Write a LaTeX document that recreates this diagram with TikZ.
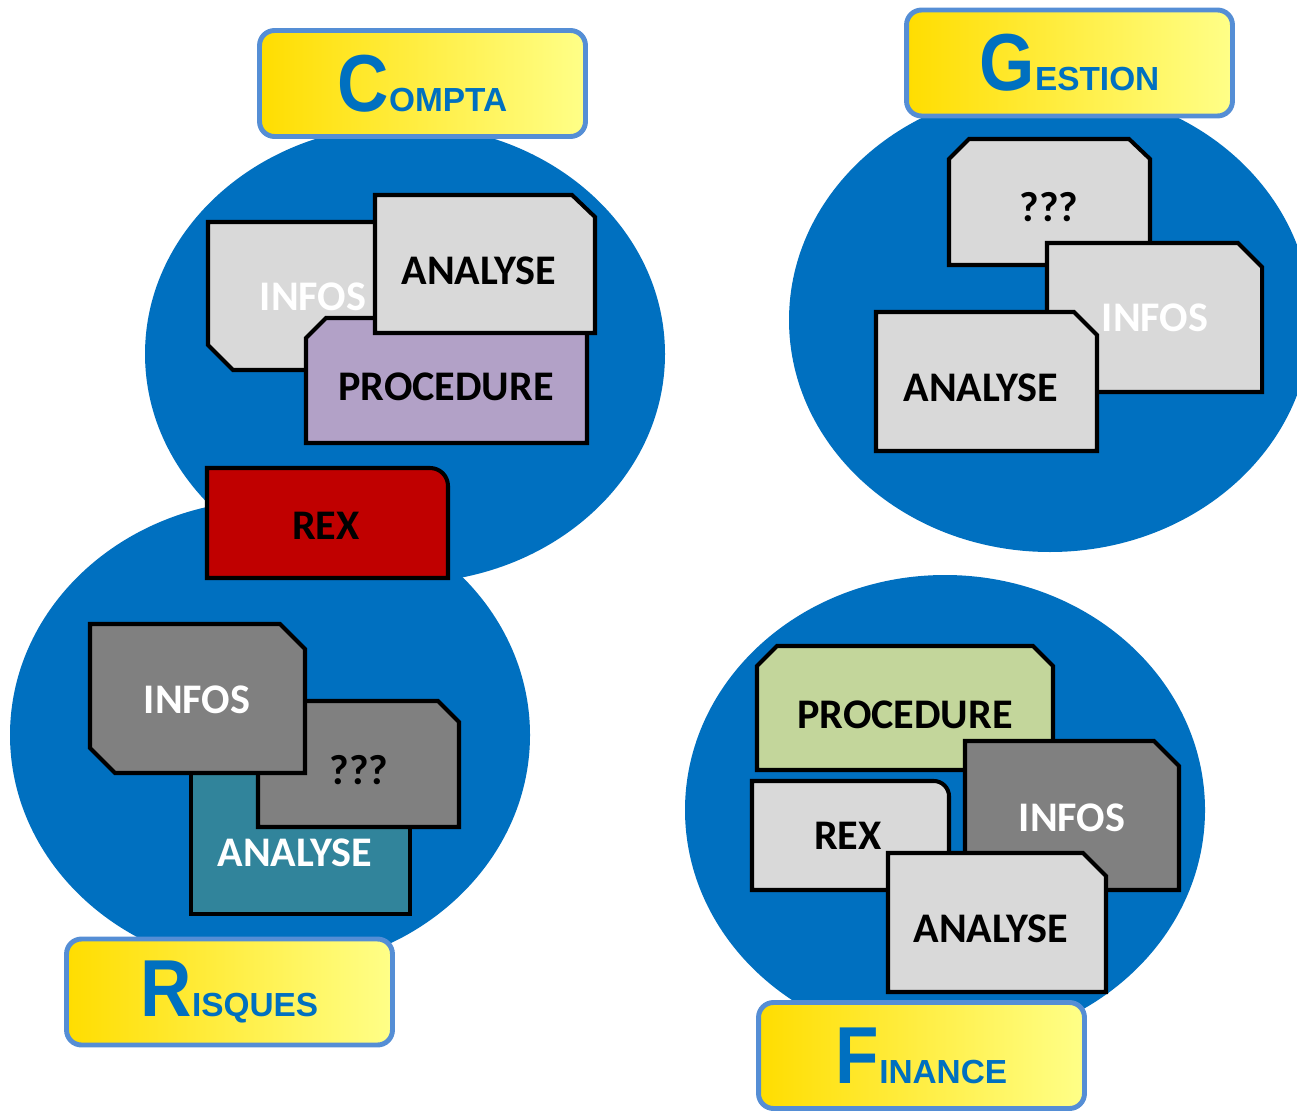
\documentclass[tikz,border=0pt]{standalone}
\usepackage{fontspec}
\newfontfamily\cardfont{Carlito}
\newfontfamily\labfont{Liberation Sans}
\definecolor{ellblue}{HTML}{0070C0}
\definecolor{lgray}{HTML}{D9D9D9}
\definecolor{dgray}{HTML}{808080}
\definecolor{purp}{HTML}{B2A1C7}
\definecolor{rexred}{HTML}{C00000}
\definecolor{teal}{HTML}{31849B}
\definecolor{lgreen}{HTML}{C3D69B}
\definecolor{labborder}{HTML}{558ED5}
\definecolor{gold}{HTML}{FFDD00}
\definecolor{lyellow}{HTML}{FFFF88}
\newcommand\bigini[1]{\scalebox{0.88}[1]{\fontsize{46}{46}\selectfont #1}}
\newcommand\smallrest[1]{{\fontsize{19}{19}\selectfont #1}}
\begin{document}
\begin{tikzpicture}[x=0.02cm,y=-0.02cm,
  blob/.style={fill=ellblue},
  card/.style={draw=black, line width=2.3pt, line join=miter},
  ctext/.style={font=\cardfont\bfseries\fontsize{24}{24}\selectfont, inner sep=0pt, text=black},
  wtext/.style={ctext, text=white},
  title/.style={draw=labborder, line width=2.8pt, rounded corners=8.5pt,
    left color=gold, middle color=yellow, right color=lyellow,
    minimum width=6.52cm, minimum height=2.12cm, inner sep=0pt,
    text=ellblue, font=\labfont\bfseries}]
\clip (0,0) rectangle (1297,1111);
\fill[white] (0,0) rectangle (1297,1111);
% ellipses
\fill[blob] (405,354) ellipse [x radius=260, y radius=229];
\fill[blob] (270,735) ellipse [x radius=260, y radius=235];
\fill[blob] (1050,320) ellipse [x radius=261, y radius=232];
\fill[blob] (945,810) ellipse [x radius=260, y radius=235];
% Compta cards
\draw[card, fill=lgray] (208,222) -- (420,222) -- (420,370) -- (233,370) -- (208,345) -- cycle;
\node[wtext] (cinfos) at (313,297) {INFOS};
\draw[card, fill=purp] (306,338) -- (326,318) -- (587,318) -- (587,443) -- (306,443) -- cycle;
\node[ctext] (cproc) at (446,387) {PROCEDURE};
\draw[card, fill=lgray] (375,195) -- (572,195) -- (595,217) -- (595,333) -- (375,333) -- cycle;
\node[ctext] (canal) at (479,271) {ANALYSE};
% REX shared
\draw[card, fill=rexred] (207,578) -- (207,468) -- (430,468) .. controls (440,468) and (448,476) .. (448,486) -- (448,578) -- cycle;
\node[ctext] (rrex) at (326,526) {REX};
% Risques cards
\draw[card, fill=teal] (191,760) -- (410,760) -- (410,914) -- (191,914) -- cycle;
\node[wtext] (ranal) at (295,853) {ANALYSE};
\draw[card, fill=dgray] (258,701) -- (438,701) -- (459,722) -- (459,827) -- (258,827) -- cycle;
\node[ctext] (rq) at (359,770) {???};
\draw[card, fill=dgray] (90,624) -- (280,624) -- (305,649) -- (305,773) -- (115,773) -- (90,748) -- cycle;
\node[wtext] (rinfos) at (197,700) {INFOS};
% Gestion cards
\draw[card, fill=lgray] (949,159) -- (969,139) -- (1129,139) -- (1150,159) -- (1150,265) -- (949,265) -- cycle;
\node[ctext] (gq) at (1049,207) {???};
\draw[card, fill=lgray] (1047,243) -- (1238,243) -- (1262,267) -- (1262,392) -- (1047,392) -- cycle;
\node[wtext] (ginfos) at (1155,318) {INFOS};
\draw[card, fill=lgray] (876,312) -- (1074,312) -- (1097,335) -- (1097,451) -- (876,451) -- cycle;
\node[ctext] (ganal) at (981,388) {ANALYSE};
% Finance cards
\draw[card, fill=lgreen] (757,666) -- (777,646) -- (1033,646) -- (1053,666) -- (1053,770) -- (757,770) -- cycle;
\node[ctext] (fproc) at (905,715) {PROCEDURE};
\draw[card, fill=dgray] (965,741) -- (1154,741) -- (1179,766) -- (1179,890) -- (965,890) -- cycle;
\node[wtext] (finfos) at (1072,818) {INFOS};
\draw[card, fill=lgray] (752,781) -- (934,781) .. controls (942,781) and (949,788) .. (949,796) -- (949,890) -- (752,890) -- cycle;
\node[ctext] (frex) at (848,836) {REX};
\draw[card, fill=lgray] (888,853) -- (1083,853) -- (1106,876) -- (1106,992) -- (888,992) -- cycle;
\node[ctext] (fanal) at (991,929) {ANALYSE};
% titles
\node[title] (compta) at (422.5,83.5) {\raisebox{-2.5pt}{\bigini{C}\smallrest{OMPTA}}};
\node[title] (gestion) at (1069.5,63) {\raisebox{-2.5pt}{\bigini{G}\smallrest{ESTION}}};
\node[title] (risques) at (229.5,992) {\raisebox{-2.5pt}{\bigini{R}\smallrest{ISQUES}}};
\node[title] (finance) at (921.5,1055.5) {\raisebox{-2.5pt}{\bigini{F}\smallrest{INANCE}}};
\end{tikzpicture}
\end{document}
